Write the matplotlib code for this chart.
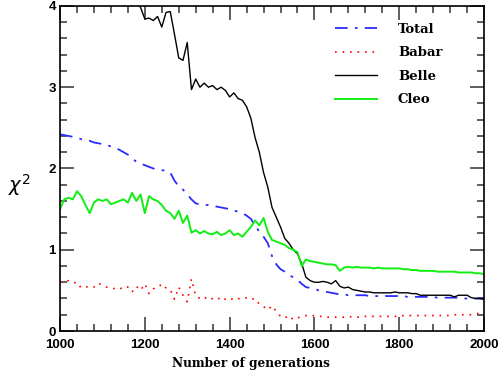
import numpy as np
import matplotlib
matplotlib.use('Agg')
import matplotlib.pyplot as plt
from matplotlib.ticker import MultipleLocator

# generations sampled every 10
gens = np.arange(1000, 2001, 10)

total = [2.42, 2.41, 2.40, 2.39, 2.38, 2.36, 2.35, 2.34, 2.32, 2.31,
         2.30, 2.29, 2.27, 2.25, 2.23, 2.20, 2.17, 2.13, 2.08, 2.06,
         2.04, 2.02, 2.00, 1.99, 1.98, 1.97, 1.95, 1.85, 1.78, 1.74,
         1.68, 1.62, 1.57, 1.56, 1.55, 1.55, 1.54, 1.53, 1.52, 1.51,
         1.50, 1.48, 1.47, 1.45, 1.42, 1.38, 1.30, 1.22, 1.16, 1.08,
         0.92, 0.82, 0.76, 0.73, 0.69, 0.66, 0.63, 0.58, 0.54, 0.53,
         0.52, 0.50, 0.49, 0.48, 0.47, 0.46, 0.45, 0.45, 0.44, 0.44,
         0.44, 0.44, 0.44, 0.43, 0.43, 0.43, 0.43, 0.43, 0.43, 0.43,
         0.43, 0.43, 0.42, 0.42, 0.42, 0.42, 0.42, 0.42, 0.42, 0.41,
         0.41, 0.41, 0.41, 0.41, 0.41, 0.40, 0.40, 0.40, 0.40, 0.40,
         0.40]

babar = [0.60, 0.60, 0.62, 0.59, 0.60, 0.53, 0.54, 0.55, 0.54, 0.59,
         0.56, 0.54, 0.53, 0.52, 0.51, 0.55, 0.54, 0.48, 0.55, 0.50,
         0.58, 0.46, 0.52, 0.53, 0.58, 0.53, 0.51, 0.39, 0.54, 0.44,
         0.36, 0.64, 0.43, 0.40, 0.42, 0.38, 0.40, 0.38, 0.42, 0.39,
         0.41, 0.38, 0.40, 0.39, 0.41, 0.39, 0.40, 0.33, 0.30, 0.26,
         0.31, 0.24, 0.18, 0.16, 0.19, 0.14, 0.16, 0.18, 0.19, 0.18,
         0.19, 0.18, 0.18, 0.17, 0.17, 0.17, 0.17, 0.17, 0.17, 0.18,
         0.17, 0.17, 0.18, 0.18, 0.18, 0.18, 0.18, 0.18, 0.18, 0.18,
         0.18, 0.19, 0.19, 0.19, 0.19, 0.19, 0.19, 0.19, 0.19, 0.19,
         0.19, 0.19, 0.19, 0.20, 0.20, 0.20, 0.20, 0.20, 0.21, 0.22,
         0.22]

belle = [4.80, 4.78, 4.75, 4.72, 4.70, 4.66, 4.62, 4.60, 4.55, 4.52,
         4.50, 4.45, 4.40, 4.36, 4.30, 4.25, 4.20, 4.12, 4.05, 3.98,
         3.84, 3.85, 3.82, 3.87, 3.74, 3.92, 3.93, 3.65, 3.36, 3.33,
         3.55, 2.97, 3.10, 3.00, 3.05, 3.00, 3.02, 2.97, 3.00, 2.96,
         2.88, 2.93, 2.86, 2.84, 2.76, 2.62, 2.38, 2.20, 1.95, 1.77,
         1.52, 1.40, 1.28, 1.14, 1.08, 1.00, 0.95, 0.83, 0.66, 0.62,
         0.60, 0.60, 0.61, 0.60, 0.58, 0.62, 0.55, 0.53, 0.54, 0.51,
         0.50, 0.49, 0.48, 0.48, 0.47, 0.47, 0.47, 0.47, 0.47, 0.48,
         0.47, 0.47, 0.47, 0.46, 0.46, 0.44, 0.44, 0.44, 0.44, 0.44,
         0.44, 0.44, 0.44, 0.42, 0.44, 0.44, 0.44, 0.41, 0.40, 0.40,
         0.39]

cleo = [1.50, 1.62, 1.64, 1.62, 1.72, 1.66, 1.55, 1.45, 1.58, 1.62,
        1.60, 1.62, 1.56, 1.58, 1.60, 1.62, 1.58, 1.70, 1.60, 1.68,
        1.45, 1.66, 1.62, 1.60, 1.55, 1.48, 1.45, 1.38, 1.48, 1.33,
        1.42, 1.21, 1.24, 1.20, 1.23, 1.20, 1.19, 1.22, 1.18, 1.20,
        1.24, 1.18, 1.20, 1.16, 1.22, 1.28, 1.36, 1.30, 1.39, 1.22,
        1.12, 1.10, 1.08, 1.06, 1.02, 1.00, 0.97, 0.80, 0.88, 0.86,
        0.85, 0.84, 0.83, 0.82, 0.82, 0.81, 0.74, 0.78, 0.79, 0.78,
        0.79, 0.78, 0.78, 0.78, 0.77, 0.78, 0.77, 0.77, 0.77, 0.77,
        0.77, 0.76, 0.76, 0.75, 0.75, 0.74, 0.74, 0.74, 0.74, 0.73,
        0.73, 0.73, 0.73, 0.73, 0.72, 0.72, 0.72, 0.72, 0.71, 0.71,
        0.70]

fig = plt.figure(figsize=(4.98, 3.70), dpi=100)
ax = fig.add_axes([0.1205, 0.1054, 0.8515, 0.8786])

ax.plot(gens, total, color='#2b2bff', lw=1.3, ls=(0, (7, 4, 1.5, 4)), label='Total')
ax.plot(gens, babar, color='red', lw=1.2, ls=(0, (1, 3.5)), label='Babar')
ax.plot(gens, belle, color='black', lw=1.0, label='Belle')
ax.plot(gens, cleo, color='#11ee11', lw=1.4, label='Cleo')

ax.set_xlim(1000, 2000)
ax.set_ylim(0, 4)
ax.xaxis.set_major_locator(MultipleLocator(200))
ax.xaxis.set_minor_locator(MultipleLocator(40))
ax.yaxis.set_major_locator(MultipleLocator(1))
ax.yaxis.set_minor_locator(MultipleLocator(0.2))
ax.tick_params(which='both', direction='in', top=True, right=True, width=1.1, color='#333333')
ax.tick_params(which='major', length=10, labelsize=9.5, pad=3)
ax.tick_params(axis='x', which='major', pad=6)
ax.tick_params(which='minor', length=5)
for lab in ax.get_xticklabels() + ax.get_yticklabels():
    lab.set_fontweight('bold')
    lab.set_family('Liberation Sans')
for s in ax.spines.values():
    s.set_linewidth(1.2)

ax.set_xlabel('Number of generations', family='DejaVu Serif', fontweight='bold', fontsize=8.7)
ax.xaxis.set_label_coords(0.45, -0.08)
ax.set_ylabel(r'$\chi^2$', fontsize=14, rotation=0, va='center')
ax.yaxis.set_label_coords(-0.095, 0.45)

leg = ax.legend(loc='upper right', frameon=False, handlelength=3.2, handletextpad=1.6,
                labelspacing=0.8, bbox_to_anchor=(0.93, 0.985),
                prop={'family': 'DejaVu Serif', 'weight': 'bold', 'size': 9.5})

fig.savefig('out.png', dpi=100)
